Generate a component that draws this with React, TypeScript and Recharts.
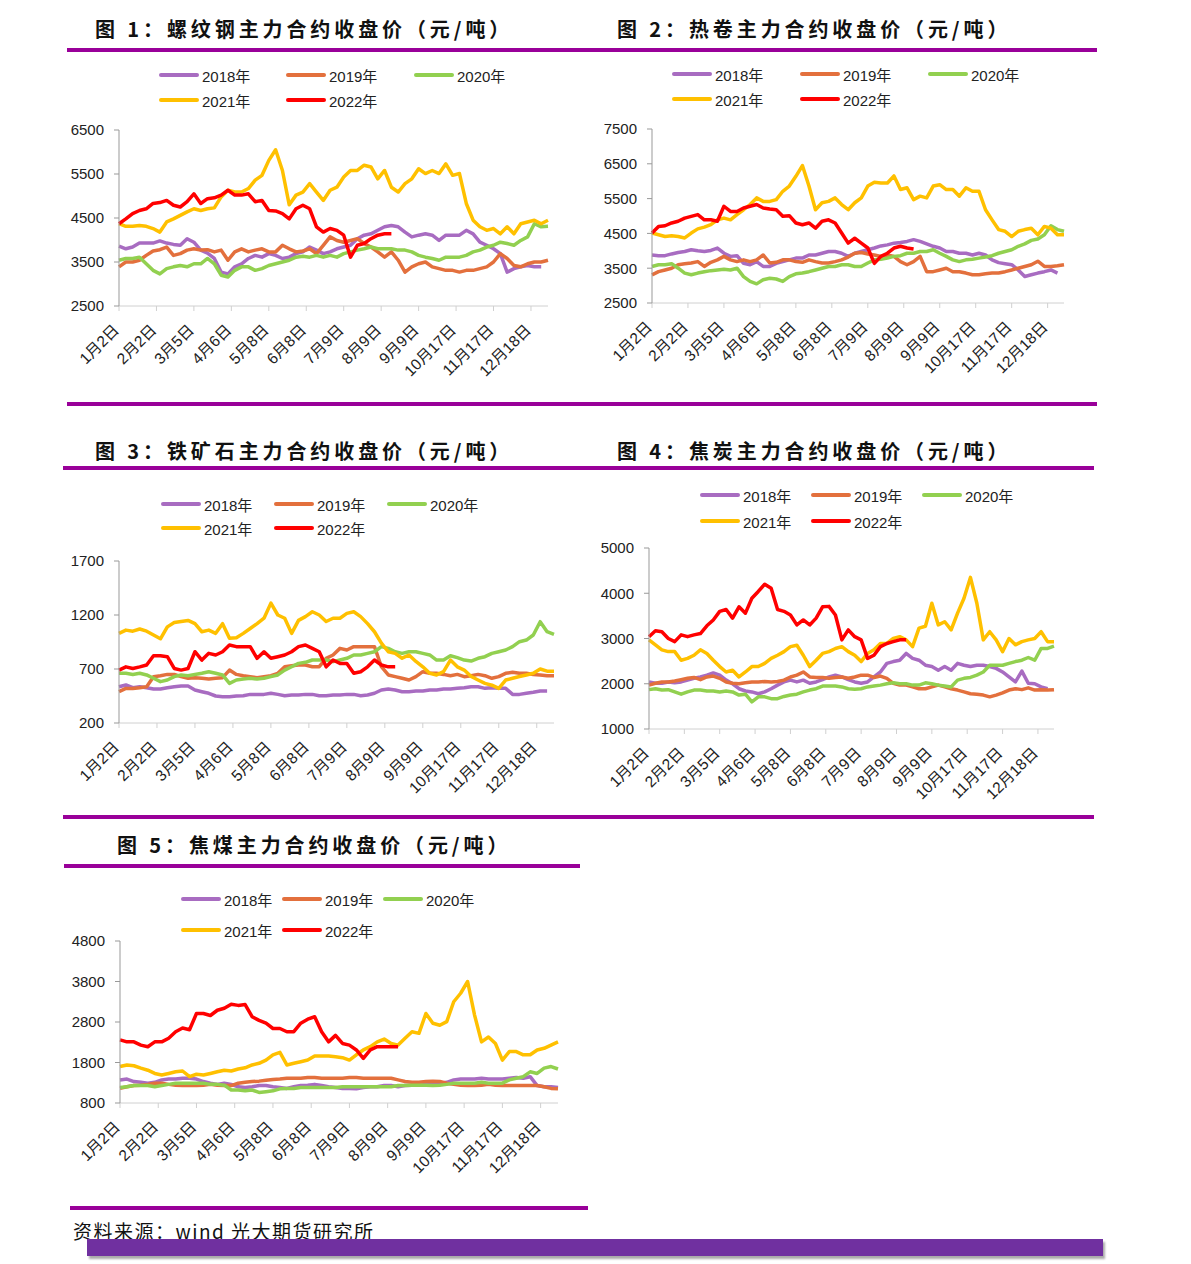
import React from "react";
import { LineChart, Line, XAxis, YAxis } from "recharts";

// x axis: trading days from 1月2日, one sample every 4 trading days
const tickLabels = ["1月2日", "2月2日", "3月5日", "4月6日", "5月8日", "6月8日", "7月9日", "8月9日", "9月9日", "10月17日", "11月17日", "12月18日"];
const tickDays = tickLabels.map((_, i) => i * 22);

const years = ["2018年", "2019年", "2020年", "2021年", "2022年"];
const colors = ["#a86cc1", "#e3703d", "#92d050", "#ffc000", "#ff0000"];

// 图1 螺纹钢
const rebar2018 = [3860, 3800, 3840, 3930, 3930, 3930, 3980, 3930, 3900, 3880, 4030, 3950, 3770, 3700, 3580, 3270, 3230, 3390, 3460, 3580, 3650, 3610, 3690, 3650, 3580, 3610, 3690, 3730, 3840, 3770, 3690, 3730, 3800, 3840, 3880, 4030, 4110, 4140, 4220, 4300, 4330, 4300, 4180, 4070, 4110, 4140, 4110, 3990, 4110, 4110, 4110, 4220, 4140, 3950, 3880, 3800, 3690, 3270, 3350, 3390, 3420, 3390, 3390];
const rebar2019 = [3390, 3500, 3500, 3540, 3650, 3750, 3780, 3840, 3650, 3690, 3770, 3800, 3770, 3780, 3730, 3770, 3540, 3730, 3800, 3730, 3770, 3800, 3730, 3730, 3880, 3800, 3730, 3750, 3800, 3690, 3880, 4070, 3990, 3950, 3990, 4030, 3920, 3840, 3730, 3610, 3730, 3540, 3270, 3390, 3460, 3500, 3390, 3350, 3310, 3310, 3270, 3310, 3310, 3350, 3390, 3500, 3690, 3580, 3420, 3390, 3460, 3500, 3500, 3540];
const rebar2020 = [3540, 3580, 3580, 3610, 3460, 3310, 3230, 3350, 3390, 3420, 3390, 3460, 3460, 3580, 3460, 3200, 3160, 3310, 3390, 3390, 3310, 3350, 3420, 3460, 3500, 3540, 3610, 3630, 3610, 3650, 3610, 3650, 3610, 3690, 3730, 3770, 3800, 3840, 3800, 3800, 3800, 3770, 3770, 3730, 3650, 3610, 3580, 3540, 3610, 3610, 3610, 3650, 3730, 3770, 3840, 3880, 3950, 3920, 3880, 3990, 4070, 4370, 4300, 4310];
const rebar2021 = [4370, 4310, 4310, 4330, 4310, 4260, 4180, 4410, 4480, 4560, 4640, 4710, 4670, 4710, 4730, 4980, 5130, 5090, 5090, 5170, 5360, 5470, 5810, 6050, 5580, 4800, 5020, 5090, 5280, 5090, 4900, 5130, 5200, 5430, 5580, 5580, 5700, 5660, 5390, 5580, 5200, 5090, 5280, 5390, 5620, 5510, 5580, 5510, 5730, 5470, 5510, 4830, 4450, 4300, 4220, 4260, 4140, 4300, 4140, 4370, 4410, 4450, 4370, 4450];
const rebar2022 = [4370, 4480, 4600, 4670, 4710, 4830, 4850, 4900, 4790, 4750, 4870, 5050, 4830, 4940, 4960, 5020, 5130, 5020, 5020, 5050, 4870, 4900, 4670, 4660, 4600, 4480, 4710, 4790, 4710, 4300, 4180, 4260, 4220, 4110, 3610, 3880, 3920, 4030, 4110, 4140, 4140];

// 图2 热卷
const hc2018 = [3880, 3860, 3860, 3910, 3950, 3980, 4030, 4000, 3980, 4010, 4080, 3930, 3840, 3860, 3640, 3600, 3690, 3550, 3550, 3640, 3690, 3740, 3790, 3790, 3880, 3880, 3930, 3980, 3980, 3930, 3840, 3930, 3980, 4030, 4080, 4140, 4170, 4220, 4240, 4270, 4320, 4270, 4200, 4130, 4080, 3980, 3980, 3930, 3930, 3880, 3930, 3880, 3740, 3660, 3630, 3600, 3450, 3260, 3310, 3360, 3400, 3450, 3360];
const hc2019 = [3310, 3400, 3450, 3500, 3600, 3630, 3650, 3690, 3550, 3670, 3740, 3840, 3740, 3690, 3740, 3690, 3740, 3880, 3650, 3670, 3740, 3740, 3690, 3670, 3740, 3690, 3650, 3650, 3690, 3740, 3820, 3930, 3950, 3910, 3880, 3840, 3880, 3840, 3690, 3600, 3690, 3840, 3400, 3400, 3450, 3500, 3400, 3400, 3360, 3310, 3310, 3340, 3360, 3360, 3400, 3450, 3500, 3550, 3600, 3700, 3550, 3550, 3570, 3600];
const hc2020 = [3550, 3600, 3600, 3630, 3500, 3360, 3310, 3360, 3400, 3430, 3450, 3470, 3450, 3500, 3260, 3120, 3050, 3170, 3210, 3190, 3120, 3260, 3340, 3360, 3400, 3450, 3500, 3550, 3550, 3600, 3600, 3550, 3550, 3650, 3740, 3760, 3790, 3840, 3860, 3930, 3930, 3980, 3980, 4030, 3930, 3840, 3740, 3690, 3740, 3760, 3790, 3820, 3860, 3930, 3980, 4030, 4130, 4200, 4300, 4340, 4460, 4720, 4610, 4560];
const hc2021 = [4510, 4460, 4410, 4430, 4410, 4370, 4510, 4630, 4680, 4750, 4890, 4940, 4890, 5040, 5180, 5330, 5520, 5420, 5420, 5470, 5710, 5860, 6140, 6450, 5860, 5180, 5380, 5420, 5520, 5330, 5180, 5380, 5520, 5860, 5970, 5950, 5950, 6150, 5760, 5810, 5470, 5570, 5520, 5860, 5900, 5760, 5760, 5570, 5810, 5710, 5710, 5180, 4890, 4610, 4560, 4410, 4560, 4610, 4650, 4460, 4700, 4650, 4460, 4460];
const hc2022 = [4510, 4700, 4720, 4800, 4850, 4940, 4990, 5040, 4890, 4890, 4850, 5280, 5130, 5130, 5230, 5280, 5330, 5230, 5200, 5180, 4990, 5010, 4800, 4750, 4800, 4650, 4850, 4890, 4800, 4510, 4220, 4360, 4220, 4080, 3640, 3840, 3930, 4080, 4130, 4080, 4050];

// 图3 铁矿石
const ore2018 = [536, 552, 527, 536, 527, 515, 515, 527, 536, 543, 543, 506, 490, 475, 450, 444, 444, 450, 453, 465, 465, 465, 475, 465, 453, 459, 459, 465, 465, 453, 453, 459, 459, 465, 465, 453, 459, 475, 506, 515, 506, 490, 490, 496, 496, 506, 506, 515, 515, 521, 527, 536, 536, 521, 527, 521, 521, 465, 465, 475, 484, 496, 496];
const ore2019 = [490, 520, 520, 527, 536, 629, 638, 650, 650, 629, 614, 620, 614, 607, 614, 620, 690, 650, 638, 629, 620, 629, 638, 660, 721, 730, 737, 737, 721, 721, 799, 830, 891, 876, 907, 907, 907, 907, 721, 645, 629, 614, 598, 629, 675, 660, 660, 650, 638, 650, 629, 638, 650, 638, 614, 629, 660, 669, 660, 660, 650, 645, 638, 638];
const ore2020 = [660, 660, 650, 660, 645, 614, 583, 598, 629, 645, 638, 650, 660, 675, 660, 645, 567, 598, 607, 614, 607, 614, 629, 645, 690, 721, 752, 762, 783, 783, 783, 768, 783, 799, 830, 830, 845, 860, 907, 891, 860, 845, 860, 860, 845, 830, 783, 783, 823, 805, 783, 774, 799, 814, 845, 860, 876, 907, 953, 968, 1015, 1138, 1045, 1020];
const ore2021 = [1030, 1060, 1050, 1070, 1050, 1015, 980, 1090, 1130, 1140, 1150, 1120, 1045, 1060, 1030, 1120, 985, 990, 1030, 1075, 1120, 1170, 1310, 1200, 1170, 1030, 1150, 1185, 1230, 1200, 1140, 1170, 1170, 1215, 1230, 1185, 1120, 1045, 940, 860, 845, 800, 830, 770, 720, 660, 645, 675, 783, 720, 690, 630, 598, 567, 550, 520, 598, 614, 630, 645, 660, 700, 680, 680];
const ore2022 = [690, 720, 705, 720, 737, 823, 823, 814, 705, 690, 705, 860, 783, 845, 830, 860, 922, 907, 907, 907, 799, 860, 799, 814, 830, 860, 907, 922, 891, 860, 720, 783, 752, 752, 660, 675, 720, 783, 737, 720, 720];

// 图4 焦炭
const coke2018 = [2040, 2010, 2010, 2040, 2020, 2040, 2080, 2120, 2150, 2190, 2240, 2190, 2080, 2000, 1890, 1840, 1820, 1780, 1820, 1890, 1970, 2040, 2080, 2040, 2080, 2010, 2040, 2090, 2150, 2190, 2150, 2090, 2040, 2010, 2040, 2150, 2260, 2450, 2490, 2520, 2670, 2560, 2520, 2410, 2380, 2300, 2380, 2300, 2450, 2410, 2380, 2410, 2410, 2380, 2340, 2260, 2150, 2040, 2280, 2010, 2000, 1930, 1890];
const coke2019 = [1970, 2010, 2040, 2040, 2060, 2090, 2120, 2140, 2090, 2150, 2170, 2120, 2040, 2010, 2000, 2020, 2040, 2040, 2050, 2040, 2050, 2080, 2150, 2190, 2260, 2150, 2140, 2140, 2120, 2140, 2150, 2120, 2150, 2190, 2190, 2140, 2170, 2120, 2010, 1970, 1970, 1930, 1890, 1890, 1930, 1970, 1930, 1890, 1860, 1820, 1780, 1770, 1750, 1710, 1750, 1800, 1860, 1890, 1870, 1910, 1860, 1870, 1860, 1870];
const coke2020 = [1870, 1890, 1860, 1870, 1820, 1770, 1820, 1860, 1860, 1840, 1840, 1820, 1840, 1820, 1750, 1770, 1600, 1710, 1710, 1670, 1670, 1720, 1750, 1770, 1820, 1860, 1890, 1950, 1950, 1950, 1930, 1890, 1880, 1890, 1930, 1950, 1970, 2000, 2020, 2000, 2000, 1970, 1970, 2020, 2000, 1970, 1950, 1930, 2080, 2120, 2140, 2190, 2260, 2410, 2410, 2410, 2450, 2490, 2520, 2580, 2520, 2780, 2780, 2830];
const coke2021 = [2970, 2860, 2750, 2710, 2710, 2520, 2560, 2630, 2750, 2670, 2520, 2380, 2260, 2300, 2150, 2260, 2380, 2380, 2450, 2560, 2630, 2710, 2820, 2850, 2630, 2380, 2520, 2670, 2710, 2780, 2820, 2710, 2630, 2490, 2670, 2750, 2890, 2890, 3000, 3040, 2970, 2820, 3230, 3270, 3780, 3300, 3370, 3190, 3560, 3890, 4350, 3780, 2970, 3150, 2970, 2710, 3000, 2860, 2930, 2970, 3000, 3150, 2930, 2930];
const coke2022 = [3040, 3170, 3150, 3000, 2930, 3080, 3040, 3080, 3110, 3280, 3410, 3600, 3640, 3450, 3700, 3560, 3890, 4040, 4200, 4110, 3640, 3600, 3520, 3300, 3410, 3300, 3450, 3700, 3710, 3520, 2970, 3190, 3040, 2970, 2560, 2630, 2820, 2890, 2930, 2970, 2970];

// 图5 焦煤
const coal2018 = [1370, 1390, 1330, 1310, 1290, 1310, 1370, 1390, 1390, 1410, 1410, 1390, 1330, 1290, 1260, 1290, 1260, 1200, 1180, 1200, 1230, 1230, 1200, 1180, 1160, 1200, 1230, 1240, 1260, 1230, 1200, 1180, 1160, 1160, 1150, 1180, 1200, 1200, 1230, 1230, 1200, 1230, 1240, 1240, 1260, 1260, 1290, 1310, 1370, 1390, 1390, 1390, 1410, 1390, 1390, 1390, 1410, 1430, 1410, 1450, 1230, 1200, 1200, 1180];
const coal2019 = [1160, 1200, 1230, 1240, 1260, 1290, 1290, 1260, 1240, 1230, 1230, 1230, 1240, 1260, 1240, 1230, 1230, 1290, 1310, 1330, 1340, 1360, 1380, 1390, 1410, 1410, 1410, 1430, 1430, 1410, 1410, 1410, 1410, 1430, 1430, 1410, 1410, 1410, 1410, 1410, 1370, 1330, 1310, 1310, 1330, 1340, 1330, 1290, 1260, 1240, 1230, 1230, 1240, 1260, 1240, 1230, 1230, 1230, 1230, 1230, 1230, 1200, 1160, 1150];
const coal2020 = [1180, 1200, 1230, 1230, 1230, 1200, 1230, 1260, 1290, 1290, 1290, 1290, 1290, 1260, 1260, 1240, 1120, 1120, 1100, 1120, 1060, 1080, 1100, 1150, 1160, 1160, 1180, 1180, 1180, 1180, 1180, 1180, 1200, 1200, 1200, 1200, 1200, 1200, 1200, 1200, 1230, 1230, 1240, 1240, 1240, 1230, 1240, 1260, 1290, 1290, 1290, 1290, 1310, 1290, 1290, 1290, 1370, 1410, 1450, 1570, 1530, 1660, 1700, 1640];
const coal2021 = [1700, 1740, 1720, 1660, 1610, 1530, 1490, 1530, 1570, 1590, 1450, 1510, 1490, 1530, 1570, 1610, 1590, 1640, 1670, 1740, 1780, 1860, 1990, 2050, 1740, 1780, 1820, 1860, 1960, 1960, 1960, 1940, 1920, 1860, 1990, 2110, 2190, 2310, 2380, 2270, 2230, 2400, 2560, 2520, 3010, 2770, 2720, 2810, 3300, 3510, 3800, 2970, 2310, 2430, 2270, 1860, 2070, 2070, 1990, 1990, 2110, 2150, 2230, 2310];
const coal2022 = [2360, 2310, 2310, 2230, 2190, 2310, 2310, 2400, 2560, 2650, 2610, 3010, 3010, 2960, 3090, 3140, 3240, 3210, 3230, 2930, 2840, 2770, 2640, 2640, 2560, 2560, 2770, 2870, 2930, 2560, 2310, 2470, 2270, 2230, 2110, 1900, 2110, 2190, 2190, 2190, 2190];

const days = rebar2019.map((_, i) => i * 4);

const FONT = "'Liberation Sans', 'Noto Sans CJK SC', sans-serif";
const RULE = "#990099";

type Box = { x: number; y: number; w: number; h: number };

// rotated date label, its end sits just under the tick
const DateTick = (props: any) => {
  const { x, y, payload } = props;
  const ax = x + 1;
  const ay = y + 20;
  return (
    <text
      x={ax}
      y={ay}
      transform={`rotate(-45, ${ax}, ${ay})`}
      textAnchor="end"
      fontSize={15.5}
      fill="#222"
      fontFamily={FONT}
    >
      {tickLabels[Math.round(payload.value / 22)]}
    </text>
  );
};

function Panel({ box, yDomain, yTicks, series }: { box: Box; yDomain: number[]; yTicks: number[]; series: number[][] }) {
  const rows = days.map((d, i) => {
    const r: any = { d };
    series.forEach((s, k) => {
      r["s" + k] = s[i];
    });
    return r;
  });
  return (
    <div style={{ position: "absolute", left: box.x - 60, top: box.y - 10 }}>
      <LineChart width={box.w + 70} height={box.h + 90} data={rows} margin={{ top: 10, right: 10, bottom: 0, left: 0 }}>
        <XAxis
          dataKey="d"
          type="number"
          domain={[0, 252]}
          ticks={tickDays}
          interval={0}
          height={80}
          tickSize={5}
          tickMargin={0}
          axisLine={{ stroke: "#d0d0d0" }}
          tickLine={{ stroke: "#d0d0d0" }}
          tick={<DateTick />}
        />
        <YAxis
          type="number"
          domain={yDomain}
          ticks={yTicks}
          interval={0}
          width={60}
          tickSize={5}
          tickMargin={10}
          axisLine={{ stroke: "#999" }}
          tickLine={{ stroke: "#999" }}
          tick={{ fontSize: 15, fill: "#222", fontFamily: FONT }}
        />
        {series.map((s, k) => (
          <Line
            key={k}
            dataKey={"s" + k}
            type="linear"
            stroke={colors[k]}
            strokeWidth={3.5}
            strokeLinejoin="round"
            dot={false}
            isAnimationActive={false}
          />
        ))}
      </LineChart>
    </div>
  );
}

function Legend({ xs, rows }: { xs: number[]; rows: number[] }) {
  return (
    <>
      {years.map((y, k) => (
        <div
          key={y}
          style={{
            position: "absolute",
            left: xs[k % 3],
            top: rows[Math.floor(k / 3)] - 10,
            height: 20,
            display: "flex",
            alignItems: "center",
            fontFamily: FONT,
            fontSize: 15,
            color: "#222",
            whiteSpace: "nowrap",
          }}
        >
          <div style={{ width: 40, height: 4.5, borderRadius: 3, background: colors[k], marginRight: 3 }} />
          {y}
        </div>
      ))}
    </>
  );
}

function Title({ x, y, text }: { x: number; y: number; text: string }) {
  return (
    <div
      style={{
        position: "absolute",
        left: x,
        top: y - 12,
        lineHeight: "24px",
        fontFamily: "'Noto Sans CJK SC', sans-serif",
        fontWeight: 700,
        fontSize: 20,
        letterSpacing: 3.9,
        color: "#111",
        whiteSpace: "nowrap",
      }}
    >
      {text}
    </div>
  );
}

function Rule({ x1, x2, y }: { x1: number; x2: number; y: number }) {
  return <div style={{ position: "absolute", left: x1, top: y, width: x2 - x1, height: 3.5, background: RULE }} />;
}

export default function App() {
  return (
    <div style={{ position: "absolute", left: 0, top: 0, width: 1191, height: 1264, background: "#fff", overflow: "hidden" }}>
      <Title x={95} y={29} text="图 1：螺纹钢主力合约收盘价（元/吨）" />
      <Title x={617} y={29} text="图 2：热卷主力合约收盘价（元/吨）" />
      <Rule x1={67} x2={1097} y={48} />
      <Legend xs={[159, 286, 414]} rows={[75, 100]} />
      <Legend xs={[672, 800, 928]} rows={[74, 99]} />
      <Panel box={{ x: 119, y: 130, w: 429, h: 176 }} yDomain={[2500, 6500]} yTicks={[2500, 3500, 4500, 5500, 6500]} series={[rebar2018, rebar2019, rebar2020, rebar2021, rebar2022]} />
      <Panel box={{ x: 652, y: 129, w: 412, h: 174 }} yDomain={[2500, 7500]} yTicks={[2500, 3500, 4500, 5500, 6500, 7500]} series={[hc2018, hc2019, hc2020, hc2021, hc2022]} />
      <Rule x1={67} x2={1097} y={402} />

      <Title x={95} y={451} text="图 3：铁矿石主力合约收盘价（元/吨）" />
      <Title x={617} y={451} text="图 4：焦炭主力合约收盘价（元/吨）" />
      <Rule x1={63} x2={1094} y={466} />
      <Legend xs={[161, 274, 387]} rows={[504, 528]} />
      <Legend xs={[700, 811, 922]} rows={[495, 521]} />
      <Panel box={{ x: 119, y: 561, w: 435, h: 162 }} yDomain={[200, 1700]} yTicks={[200, 700, 1200, 1700]} series={[ore2018, ore2019, ore2020, ore2021, ore2022]} />
      <Panel box={{ x: 649, y: 548, w: 405, h: 181 }} yDomain={[1000, 5000]} yTicks={[1000, 2000, 3000, 4000, 5000]} series={[coke2018, coke2019, coke2020, coke2021, coke2022]} />
      <Rule x1={63} x2={1094} y={815} />

      <Title x={117} y={845} text="图 5：焦煤主力合约收盘价（元/吨）" />
      <Rule x1={64} x2={580} y={864} />
      <Legend xs={[181, 282, 383]} rows={[899, 930]} />
      <Panel box={{ x: 120, y: 941, w: 438, h: 162 }} yDomain={[800, 4800]} yTicks={[800, 1800, 2800, 3800, 4800]} series={[coal2018, coal2019, coal2020, coal2021, coal2022]} />
      <Rule x1={70} x2={588} y={1206} />

      <div
        style={{
          position: "absolute",
          left: 73,
          top: 1219,
          lineHeight: "24px",
          fontFamily: "'Noto Sans CJK SC', sans-serif",
          fontSize: 19,
          letterSpacing: 1.5,
          color: "#111",
          whiteSpace: "nowrap",
        }}
      >
        资料来源：wind 光大期货研究所
      </div>
      <div style={{ position: "absolute", left: 87, top: 1239, width: 1016, height: 17, background: "#7030a0", boxShadow: "2px 3px 2px #aaa" }} />
    </div>
  );
}
